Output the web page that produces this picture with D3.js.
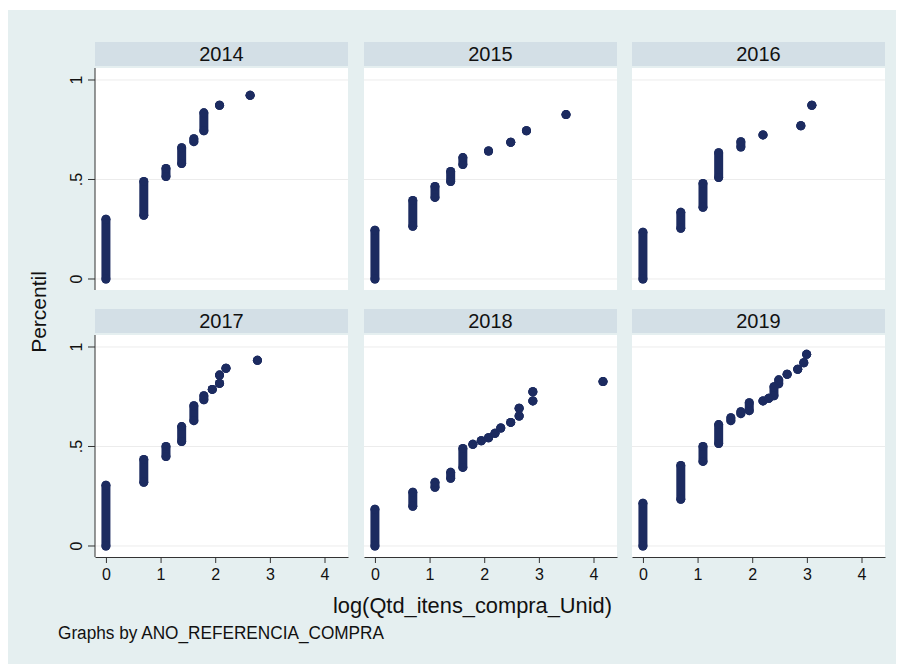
<!DOCTYPE html>
<html>
<head>
<meta charset="utf-8">
<script src="https://cdn.jsdelivr.net/npm/d3@7"></script>
<style>
  html, body { margin: 0; padding: 0; background: #ffffff; }
  svg { display: block; }
</style>
</head>
<body>
<svg id="chart" width="903" height="664"></svg>
<script>
// ---------------- DATA ----------------
// Each group: [log(quantity), lowest percentile, highest percentile]
const years = ["2014", "2015", "2016", "2017", "2018", "2019"];
const xTicks = [0, 1, 2, 3, 4];
const yTicks = [0, 0.5, 1];
const yTickLabels = ["0", ".5", "1"];

const d2014 = [[0, 0, 0.30], [0.693, 0.32, 0.49], [1.099, 0.515, 0.555], [1.386, 0.58, 0.66],
  [1.609, 0.69, 0.705], [1.792, 0.745, 0.835], [2.079, 0.873, 0.873], [2.639, 0.923, 0.923]];
const d2015 = [[0, 0, 0.245], [0.693, 0.265, 0.395], [1.099, 0.41, 0.465], [1.386, 0.49, 0.54],
  [1.609, 0.575, 0.61], [2.079, 0.643, 0.643], [2.485, 0.687, 0.687], [2.773, 0.745, 0.745],
  [3.497, 0.826, 0.826]];
const d2016 = [[0, 0, 0.235], [0.693, 0.255, 0.335], [1.099, 0.36, 0.48], [1.386, 0.51, 0.635],
  [1.792, 0.663, 0.69], [2.197, 0.724, 0.724], [2.890, 0.77, 0.77], [3.091, 0.873, 0.873]];
const d2017 = [[0, 0, 0.305], [0.693, 0.32, 0.435], [1.099, 0.45, 0.50], [1.386, 0.525, 0.60],
  [1.609, 0.63, 0.705], [1.792, 0.735, 0.755], [1.946, 0.787, 0.787], [2.079, 0.817, 0.817],
  [2.079, 0.859, 0.859], [2.197, 0.893, 0.893], [2.773, 0.933, 0.933]];
const d2018 = [[0, 0, 0.185], [0.693, 0.20, 0.27], [1.099, 0.295, 0.32], [1.386, 0.34, 0.37],
  [1.609, 0.395, 0.49], [1.792, 0.511, 0.511], [1.946, 0.529, 0.529], [2.079, 0.544, 0.544],
  [2.197, 0.566, 0.566], [2.303, 0.593, 0.593], [2.485, 0.621, 0.621], [2.639, 0.653, 0.653],
  [2.639, 0.692, 0.692], [2.890, 0.729, 0.729], [2.890, 0.775, 0.775], [4.174, 0.826, 0.826]];
const d2019 = [[0, 0, 0.215], [0.693, 0.235, 0.405], [1.099, 0.425, 0.50], [1.386, 0.515, 0.61],
  [1.609, 0.63, 0.645], [1.792, 0.665, 0.675], [1.946, 0.68, 0.72], [2.197, 0.729, 0.729],
  [2.303, 0.742, 0.742], [2.398, 0.755, 0.80], [2.485, 0.815, 0.835], [2.639, 0.863, 0.863],
  [2.833, 0.888, 0.888], [2.944, 0.921, 0.921], [2.996, 0.963, 0.963]];
const allData = [d2014, d2015, d2016, d2017, d2018, d2019];

const yTitle = "Percentil";
const xTitle = "log(Qtd_itens_compra_Unid)";
const note = "Graphs by ANO_REFERENCIA_COMPRA";

// ---------------- LAYOUT ----------------
const svg = d3.select("#chart");
const font = "'Liberation Sans', Arial, Helvetica, sans-serif";
const bg = "#e5eff0";
const stripFill = "#d3dfe6";
const markColor = "#1c2b60";
const ink = "#111111";

const colX = [95, 364, 632];
const rowY = [68, 335];
const plotW = 253, plotH = 222;
const stripH = 24, stripGap = 2;

svg.append("rect").attr("x", 8).attr("y", 10).attr("width", 888).attr("height", 654).attr("fill", bg);

const x = d3.scaleLinear().domain([-0.2, 4.43]).range([0, plotW]);
const y = d3.scaleLinear().domain([-0.0553, 1.0603]).range([plotH, 0]);

years.forEach((yr, i) => {
  const col = i % 3, row = Math.floor(i / 3);
  const g = svg.append("g").attr("transform", `translate(${colX[col]},${rowY[row]})`);

  // strip
  g.append("rect").attr("x", 0).attr("y", -stripH - stripGap).attr("width", plotW).attr("height", stripH)
    .attr("fill", stripFill);
  g.append("text").attr("x", plotW / 2).attr("y", -stripGap - 5).attr("text-anchor", "middle")
    .attr("font-family", font).attr("font-size", 20).attr("fill", ink).text(yr);

  // plot area
  g.append("rect").attr("width", plotW).attr("height", plotH).attr("fill", "#ffffff");

  // grid lines
  g.selectAll("line.grid").data(yTicks).enter().append("line")
    .attr("x1", 0).attr("x2", plotW).attr("y1", d => y(d)).attr("y2", d => y(d))
    .attr("stroke", "#ececec").attr("stroke-width", 1);

  // marks
  const data = allData[i];
  g.selectAll("line.run").data(data).enter().append("line")
    .attr("x1", d => x(d[0])).attr("x2", d => x(d[0]))
    .attr("y1", d => y(d[1])).attr("y2", d => y(d[2]))
    .attr("stroke", markColor).attr("stroke-width", 9).attr("stroke-linecap", "round");
  g.selectAll("circle.lo").data(data).enter().append("circle")
    .attr("cx", d => x(d[0])).attr("cy", d => y(d[1])).attr("r", 4.5).attr("fill", markColor);
  g.selectAll("circle.hi").data(data).enter().append("circle")
    .attr("cx", d => x(d[0])).attr("cy", d => y(d[2])).attr("r", 4.5).attr("fill", markColor);

  // y axis (first column only)
  if (col === 0) {
    const ya = g.append("g");
    ya.append("line").attr("x1", 0).attr("x2", 0).attr("y1", 0).attr("y2", plotH)
      .attr("stroke", "#333").attr("stroke-width", 1);
    yTicks.forEach((t, k) => {
      ya.append("line").attr("x1", -7).attr("x2", 0).attr("y1", y(t)).attr("y2", y(t))
        .attr("stroke", "#333").attr("stroke-width", 1);
      ya.append("text").attr("transform", `translate(-13,${y(t)}) rotate(-90)`)
        .attr("text-anchor", "middle").attr("font-family", font).attr("font-size", 16)
        .attr("fill", ink).text(yTickLabels[k]);
    });
  }
  // x axis (second row only)
  if (row === 1) {
    const xa = g.append("g").attr("transform", `translate(0,${plotH})`);
    const axis = d3.axisBottom(x).tickValues(xTicks).tickFormat(d3.format("d")).tickSize(6).tickSizeOuter(0);
    xa.call(axis);
    xa.select(".domain").attr("stroke", "#333");
    xa.selectAll(".tick line").attr("stroke", "#333");
    xa.selectAll(".tick text").attr("font-family", font).attr("font-size", 16)
      .attr("fill", ink).attr("dy", "0.95em").attr("y", 8);
  }
});

// titles
svg.append("text").attr("transform", "translate(46,312) rotate(-90)").attr("text-anchor", "middle")
  .attr("font-family", font).attr("font-size", 21).attr("fill", ink).text(yTitle);
svg.append("text").attr("x", 333).attr("y", 613)
  .attr("font-family", font).attr("font-size", 22).attr("fill", ink)
  .attr("textLength", 279).attr("lengthAdjust", "spacingAndGlyphs").text(xTitle);
svg.append("text").attr("x", 58).attr("y", 639)
  .attr("font-family", font).attr("font-size", 18).attr("fill", ink)
  .attr("textLength", 326).attr("lengthAdjust", "spacingAndGlyphs").text(note);
</script>
</body>
</html>
